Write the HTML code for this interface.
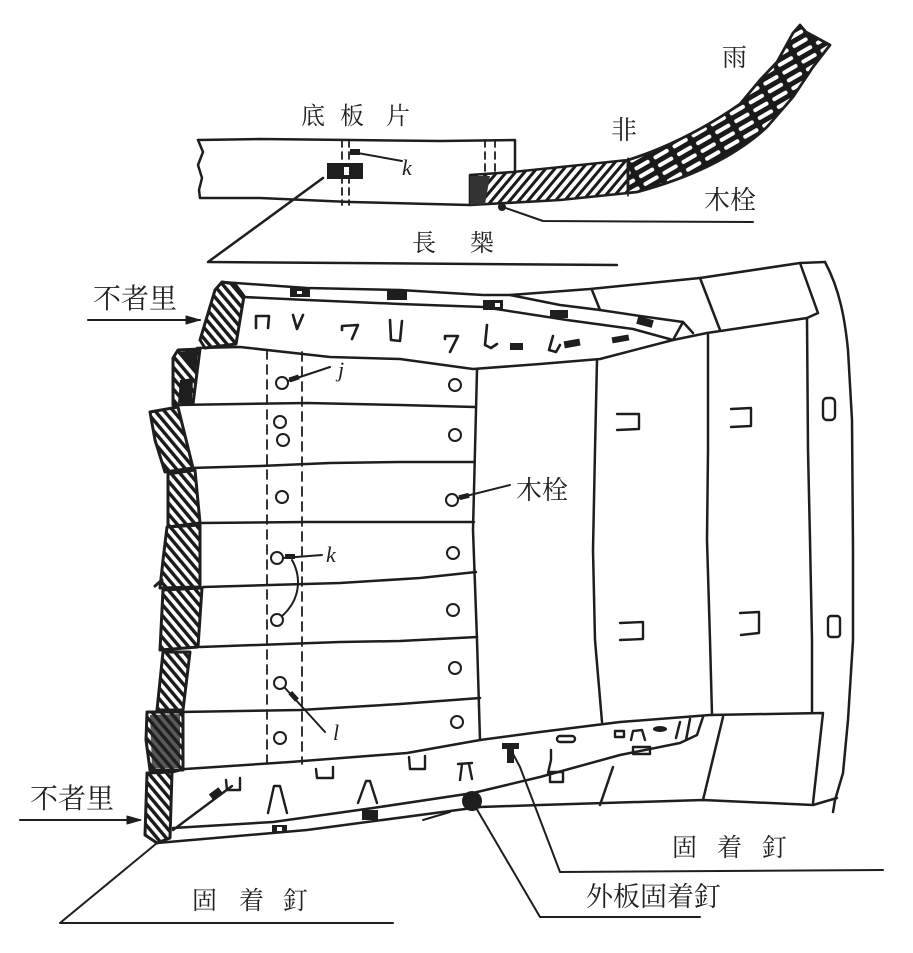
<!DOCTYPE html>
<html><head><meta charset="utf-8"><style>
html,body{margin:0;padding:0;background:#fff;}
svg{display:block;}
.t{font-family:"Liberation Serif","Noto Serif CJK SC","Noto Sans CJK SC",serif;fill:#222;}
.i{font-family:"Liberation Serif",serif;font-style:italic;fill:#222;}
</style></head><body>
<svg width="913" height="953" viewBox="0 0 913 953" xmlns="http://www.w3.org/2000/svg">
<defs>
<pattern id="hl" width="7" height="7" patternUnits="userSpaceOnUse" patternTransform="rotate(-40)"><rect width="7" height="7" fill="#fff"/><rect width="3.4" height="7" fill="#1a1a1a"/></pattern>
<pattern id="hr" width="7" height="7" patternUnits="userSpaceOnUse" patternTransform="rotate(40)"><rect width="7" height="7" fill="#fff"/><rect width="3" height="7" fill="#1a1a1a"/></pattern>
<pattern id="hd" width="9" height="22" patternUnits="userSpaceOnUse" patternTransform="rotate(60)"><rect width="9" height="22" fill="#1a1a1a"/><rect x="3" y="2" width="4" height="17" rx="2" fill="#fff"/></pattern>
</defs>
<rect width="913" height="953" fill="#fff"/>

<g fill="none" stroke="#1e1e1e" stroke-width="2.5" stroke-linejoin="round" stroke-linecap="round">
<path d="M198,140 L260,139 L350,140 L440,141 L515,140 L515,172"/>
<path d="M198,140 L203,152 L198,165 L202,178 L199,190 L200,198 L260,198 L350,202 L470,205"/>
<g stroke-dasharray="7,5" stroke-width="1.8">
<path d="M342,140 L342,205"/><path d="M349,140 L349,205"/>
<path d="M485,140 L485,172"/><path d="M495,140 L495,172"/>
</g>
<path d="M470,175 L513,172 L628,160 L628,193 L560,200 L470,205 Z" fill="url(#hr)" stroke-width="2.6"/>
<path d="M470,176 L490,176 L485,204 L470,205 Z" fill="#333" stroke="none"/>
<path d="M628,160 C660,150 700,132 740,104 L760,80 L777,62 L793,33 L800,25 L806,32 L830,45 L813,67 L793,97 L767,127 C740,152 700,175 637,192 L628,193 Z" fill="url(#hd)" stroke-width="2.8"/>
<path d="M628,158 L628,196" stroke-width="1.5"/>
<rect x="327" y="163" width="36" height="16" fill="#1e1e1e" stroke="none"/>
<rect x="344" y="167" width="5" height="8" fill="#fff" stroke="none"/>
<path d="M323,178 L208,262 L617,265"/>
<path d="M352,152 L402,161" stroke-width="2"/>
<rect x="350" y="149" width="10" height="6" fill="#1e1e1e" stroke="none"/>
<path d="M500,206 L543,221 L753,222" stroke-width="2"/>
<circle cx="502" cy="207" r="4" fill="#1e1e1e" stroke="none"/>

<path d="M222,282 L307,288 L400,290 L483,295 L510,295 L590,289 L700,278 L800,263 L825,262"/>
<path d="M825,262 C840,290 845,320 848,350 L852,420 L853,550 L853,640 L848,720 L843,773 L835,800 L833,812"/>
<path d="M800,263 L818,313 L807,318 L707,333"/>
<path d="M592,290 L600,310"/><path d="M700,278 L720,330"/>
<path d="M510,295 L560,305 L600,310 L640,316 L683,322 L693,333"/>
<path d="M683,322 L673,340"/>
<path d="M243,297 L307,300 L400,304 L483,307 L567,320 L633,329 L673,340"/>
<path d="M197,348 L240,347 L330,357 L400,359 L473,369 L540,364 L600,359 L673,340 L707,333"/>
<path d="M477,370 L475,450 L473,530 L477,640 L480,740"/>
<path d="M597,360 L595,450 L593,550 L595,640 L602,722"/>
<path d="M708,335 L708,450 L707,540 L710,640 L712,715"/>
<path d="M807,318 L808,450 L810,540 L812,640 L812,713"/>
<path d="M175,405 L240,404 L307,403 L400,405 L475,407"/>
<path d="M190,468 L260,466 L330,463 L400,462 L474,462"/>
<path d="M200,523 L307,522 L400,522 L474,522"/>
<path d="M203,587 L270,585 L340,583 L420,578 L476,572"/>
<path d="M200,647 L340,642 L400,641 L477,637"/>
<path d="M180,712 L300,710 L400,704 L480,698"/>
<path d="M170,770 L290,762 L407,753 L480,740 L540,732 L620,722 L710,715 L823,713 L813,803"/>
<path d="M173,828 L273,822 L373,808 L473,793 L540,777 L620,755 L680,743 L697,735 L703,717"/>
<path d="M680,722 L676,738 M690,719 L686,740"/>
<path d="M157,843 L307,830 L420,815 L480,807 L540,805 L703,800 L813,805 L837,798"/>
<path d="M613,767 L600,805"/><path d="M723,717 L703,800"/>
<path d="M423,820 L450,812" stroke-width="2"/>
<g stroke-dasharray="9,6" stroke-width="1.8">
<path d="M267,350 L267,766"/><path d="M302,352 L302,764"/>
</g>
<g fill="url(#hl)" stroke-width="3">
<path d="M215,290 L222,282 L235,284 L244,296 L236,344 L205,348 L200,340 Z"/>
<path d="M173,358 L178,350 L200,349 L193,404 L173,405 Z"/>
<path d="M150,412 L178,407 L193,468 L165,472 L155,440 Z"/>
<path d="M168,474 L195,470 L200,523 L168,527 Z"/>
<path d="M167,527 L200,525 L200,587 L160,588 L163,560 Z"/>
<path d="M163,590 L202,588 L198,647 L160,650 Z"/>
<path d="M163,652 L190,652 L183,710 L157,710 Z"/>
<path d="M147,712 L183,712 L183,770 L150,770 L146,740 Z"/>
<path d="M147,773 L172,772 L170,838 L157,843 L145,835 Z"/>
</g>
<path d="M178,352 L198,350 L196,370 L186,362 Z M180,380 L193,378 L192,403 L178,403 Z" fill="#1e1e1e" stroke="none"/>
<path d="M150,715 L180,714 L180,768 L152,768 Z" fill="#222" opacity="0.75" stroke="none"/>
<path d="M172,772 L180,770 M155,586 L162,580" stroke-width="3"/>
<g fill="#1e1e1e" stroke="none">
<rect x="290" y="288" width="20" height="9"/>
<rect x="387" y="290" width="20" height="10"/>
<rect x="483" y="300" width="20" height="10"/>
<rect x="550" y="310" width="18" height="8"/>
<rect x="637" y="318" width="16" height="8" transform="rotate(15 645 322)"/>
<rect x="510" y="343" width="13" height="7"/>
<rect x="564" y="340" width="16" height="7" transform="rotate(-10 572 343)"/>
<rect x="612" y="336" width="17" height="6" transform="rotate(-10 620 339)"/>
</g>
<g fill="#fff" stroke="none"><rect x="495" y="303" width="5" height="4"/><rect x="297" y="291" width="5" height="3"/></g>
<g stroke-width="2.6">
<path d="M256,328 L256,316 L269,316 L268,328"/>
<path d="M293,315 L297,329 L303,315"/>
<path d="M342,330 L342,326 L358,325 L352,339"/>
<path d="M390,320 L391,340 L400,341 L402,321"/>
<path d="M445,339 L445,336 L458,336 L450,352"/>
<path d="M487,325 L485,345 L491,348 L497,344"/>
<path d="M553,336 L549,350 L556,352 L560,345"/>
</g>
<g stroke-width="2.4">
<path d="M173,830 L232,786"/>
<path d="M226,780 L227,790 L240,790 L240,778"/>
<path d="M268,813 L274,786 L280,786 L287,813"/>
<path d="M316,769 L317,778 L333,778 L333,767"/>
<path d="M358,803 L366,781 L370,781 L377,803"/>
<path d="M409,757 L410,769 L425,769 L425,756"/>
<path d="M458,764 L472,763 M462,764 L460,780 M469,764 L472,779"/>
<path d="M551,750 L551,760 L548,773"/>
<rect x="550" y="772" width="13" height="10"/>
<rect x="557" y="736" width="18" height="6" rx="3"/>
<rect x="615" y="731" width="9" height="6"/>
<path d="M631,740 L633,731 L642,730 L645,740"/>
<rect x="633" y="747" width="17" height="7"/>
</g>
<g fill="#1e1e1e" stroke="none">
<rect x="210" y="790" width="12" height="8" transform="rotate(-37 216 794)"/>
<rect x="502" y="743" width="17" height="6"/>
<rect x="507" y="748" width="7" height="15"/>
<ellipse cx="660" cy="729" rx="7" ry="3"/>
<rect x="272" y="825" width="15" height="8"/>
<rect x="362" y="810" width="16" height="10"/>
<circle cx="472" cy="801" r="10"/>
</g>
<rect x="277" y="827" width="5" height="4" fill="#fff" stroke="none"/>
<path d="M157,843 L60,923 L393,923" stroke-width="2"/>
<path d="M512,752 L520,767 L560,872 L883,870" stroke-width="2"/>
<path d="M472,801 L540,917 L700,917" stroke-width="2"/>
<path d="M88,320 L200,320" stroke-width="2"/>
<path d="M186,316 L200,320 L186,324 Z" fill="#1e1e1e" stroke-width="1"/>
<path d="M20,820 L140,820" stroke-width="2"/>
<path d="M127,816 L141,820 L127,824 Z" fill="#1e1e1e" stroke-width="1"/>
<g stroke-width="2">
<circle cx="282" cy="383" r="6"/><circle cx="455" cy="385" r="6"/>
<circle cx="280" cy="422" r="6"/><circle cx="283" cy="440" r="6"/>
<circle cx="455" cy="435" r="6"/><circle cx="282" cy="497" r="6"/>
<circle cx="452" cy="500" r="6"/><circle cx="277" cy="558" r="6"/>
<circle cx="453" cy="553" r="6"/><circle cx="277" cy="620" r="6"/>
<circle cx="453" cy="610" r="6"/><circle cx="455" cy="668" r="6"/>
<circle cx="280" cy="683" r="6"/><circle cx="457" cy="722" r="6"/>
<circle cx="280" cy="738" r="6"/>
</g>
<g stroke-width="2">
<path d="M288,381 L330,367"/>
<path d="M458,498 L510,485"/>
<path d="M283,558 L322,555"/>
<path d="M292,560 C302,578 300,600 282,616"/>
<path d="M285,688 L325,732"/>
</g>
<g fill="#1e1e1e" stroke="none">
<rect x="289" y="376" width="10" height="5" transform="rotate(-18 294 378)"/>
<rect x="459" y="494" width="10" height="5" transform="rotate(-14 464 496)"/>
<rect x="285" y="554" width="10" height="5"/>
<rect x="289" y="694" width="10" height="5" transform="rotate(48 294 696)"/>
</g>
<g stroke-width="2.4">
<path d="M617,414 L639,414 L639,429 L617,430"/>
<path d="M731,409 L751,408 L751,426 L731,427"/>
<rect x="823" y="398" width="12" height="22" rx="4"/>
<path d="M620,623 L643,622 L643,639 L620,640"/>
<path d="M740,613 L759,612 L759,633 L741,635"/>
<rect x="828" y="616" width="12" height="21" rx="3"/>
</g>
</g>

<g class="t">
<text x="301" y="124" font-size="24">底</text>
<text x="340" y="124" font-size="24">板</text>
<text x="386" y="124" font-size="24">片</text>
<text x="611" y="139" font-size="26">非</text>
<text x="722" y="66" font-size="25">雨</text>
<text x="704" y="209" font-size="26">木栓</text>
<text x="412" y="251" font-size="24">長</text>
<text x="470" y="251" font-size="24">椝</text>
<text x="93" y="308" font-size="28">不者里</text>
<text x="30" y="808" font-size="28">不者里</text>
<text x="516" y="499" font-size="26">木栓</text>
<text x="192" y="909" font-size="25">固</text>
<text x="239" y="909" font-size="25">着</text>
<text x="283" y="909" font-size="25">釘</text>
<text x="672" y="856" font-size="25">固</text>
<text x="717" y="856" font-size="25">着</text>
<text x="762" y="856" font-size="25">釘</text>
<text x="586" y="906" font-size="27">外板固着釘</text>
</g>
<g class="i">
<text x="402" y="175" font-size="22">k</text>
<text x="338" y="377" font-size="22">j</text>
<text x="326" y="562" font-size="22">k</text>
<text x="333" y="740" font-size="22">l</text>
</g>
</svg>
</body></html>
